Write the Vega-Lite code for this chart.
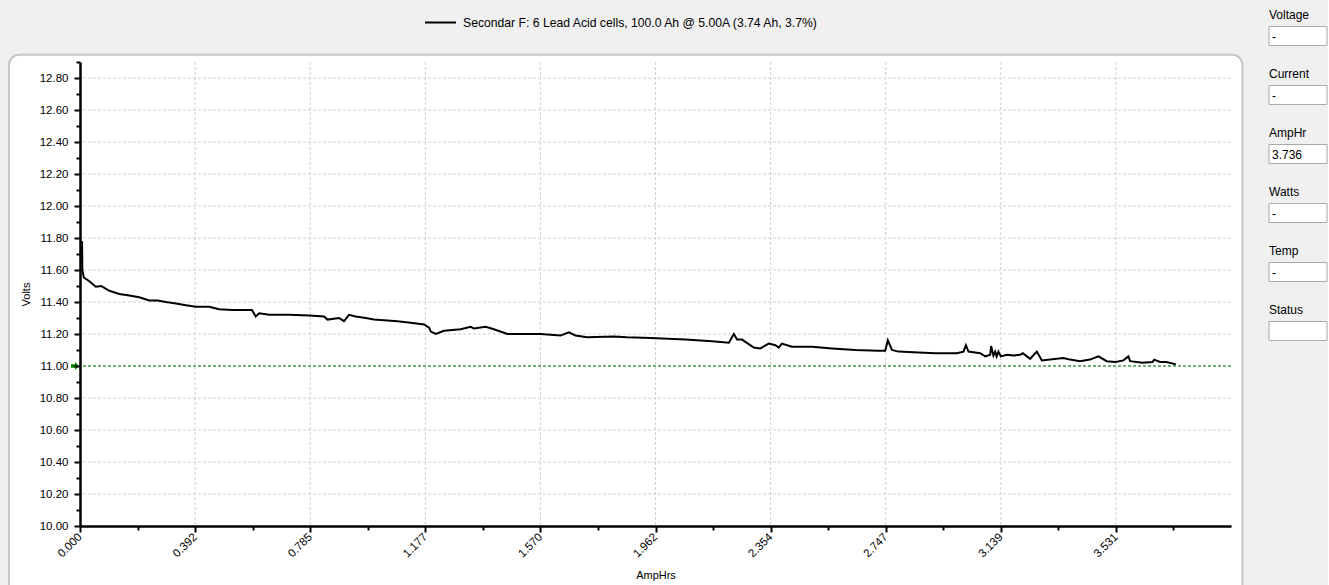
{
  "$schema": "https://vega.github.io/schema/vega-lite/v6.json",
  "background": "#f0f0f0",
  "padding": {"left": 8, "top": 6, "right": 0, "bottom": 0},
  "spacing": 24,
  "config": {
    "font": "Liberation Sans",
    "view": {"stroke": null}
  },
  "hconcat": [
    {
      "width": 1151,
      "height": 464,
      "resolve": {"axis": {"x": "independent", "y": "independent"}},
      "layer": [
        {
          "data": {"values": [{}]},
          "mark": {"type": "rect", "fill": "white", "stroke": "#c6c6c6", "strokeWidth": 2, "cornerRadius": 10},
          "encoding": {
            "x": {"datum": -0.242, "type": "quantitative", "axis": null},
            "x2": {"datum": 3.963},
            "y": {"datum": 12.945, "type": "quantitative", "axis": null},
            "y2": {"datum": 9.55}
          }
        },
        {
          "data": {"values": [
            {"volts": 10.2}, {"volts": 10.4}, {"volts": 10.6}, {"volts": 10.8}, {"volts": 11.0},
            {"volts": 11.2}, {"volts": 11.4}, {"volts": 11.6}, {"volts": 11.8}, {"volts": 12.0},
            {"volts": 12.2}, {"volts": 12.4}, {"volts": 12.6}, {"volts": 12.8}
          ]},
          "mark": {"type": "rule", "color": "#d0d0d0", "strokeDash": [3, 2], "strokeWidth": 1},
          "encoding": {"y": {"field": "volts", "type": "quantitative", "axis": null}}
        },
        {
          "data": {"values": [
            {"amphrs": 0.392385}, {"amphrs": 0.78477}, {"amphrs": 1.177155}, {"amphrs": 1.56954},
            {"amphrs": 1.961925}, {"amphrs": 2.35431}, {"amphrs": 2.746695}, {"amphrs": 3.13908},
            {"amphrs": 3.531465}
          ]},
          "mark": {"type": "rule", "color": "#d0d0d0", "strokeDash": [3, 2], "strokeWidth": 1},
          "encoding": {"x": {"field": "amphrs", "type": "quantitative", "axis": null}}
        },
        {
          "data": {"values": [{}]},
          "mark": {"type": "rule", "color": "#007a00", "strokeDash": [3, 2], "strokeWidth": 1},
          "encoding": {"y": {"datum": 11, "type": "quantitative", "axis": null}}
        },
        {
          "data": {"values": [{}]},
          "mark": {"type": "point", "shape": "M-1,-0.45H0V-1L1,0L0,1V0.45H-1Z", "filled": true, "color": "#008000", "opacity": 1, "size": 64, "xOffset": -5},
          "encoding": {
            "x": {
              "datum": 0, "type": "quantitative",
              "axis": {
                "orient": "bottom", "zindex": 1, "title": null, "labels": false, "domain": false, "grid": false,
                "values": [0.1961925, 0.5885775, 0.9809625, 1.3733475, 1.7657325, 2.1581175, 2.5505025, 2.9428875, 3.3352725, 3.7276575],
                "tickSize": 4, "tickWidth": 2, "tickColor": "black"
              }
            },
            "y": {
              "datum": 11, "type": "quantitative",
              "axis": {
                "orient": "left", "zindex": 1, "title": null, "labels": false, "domain": false, "grid": false,
                "values": [10.1, 10.3, 10.5, 10.7, 10.9, 11.1, 11.3, 11.5, 11.7, 11.9, 12.1, 12.3, 12.5, 12.7, 12.9],
                "tickSize": 4, "tickWidth": 2, "tickColor": "black"
              }
            }
          }
        },
        {
          "data": {"values": [
            {"amphrs": 0.007, "volts": 11.78}, {"amphrs": 0.008, "volts": 11.60}, {"amphrs": 0.013, "volts": 11.553},
            {"amphrs": 0.032, "volts": 11.53}, {"amphrs": 0.054, "volts": 11.496}, {"amphrs": 0.072, "volts": 11.50},
            {"amphrs": 0.100, "volts": 11.47}, {"amphrs": 0.134, "volts": 11.45}, {"amphrs": 0.168, "volts": 11.44},
            {"amphrs": 0.202, "volts": 11.43}, {"amphrs": 0.236, "volts": 11.41}, {"amphrs": 0.265, "volts": 11.41},
            {"amphrs": 0.293, "volts": 11.40}, {"amphrs": 0.327, "volts": 11.39}, {"amphrs": 0.361, "volts": 11.38},
            {"amphrs": 0.395, "volts": 11.37}, {"amphrs": 0.440, "volts": 11.37}, {"amphrs": 0.474, "volts": 11.355},
            {"amphrs": 0.520, "volts": 11.35}, {"amphrs": 0.554, "volts": 11.35}, {"amphrs": 0.586, "volts": 11.35},
            {"amphrs": 0.599, "volts": 11.31}, {"amphrs": 0.611, "volts": 11.33}, {"amphrs": 0.645, "volts": 11.32},
            {"amphrs": 0.713, "volts": 11.32}, {"amphrs": 0.781, "volts": 11.315}, {"amphrs": 0.832, "volts": 11.31},
            {"amphrs": 0.844, "volts": 11.29}, {"amphrs": 0.883, "volts": 11.30}, {"amphrs": 0.900, "volts": 11.28},
            {"amphrs": 0.917, "volts": 11.32}, {"amphrs": 0.940, "volts": 11.31}, {"amphrs": 0.974, "volts": 11.30},
            {"amphrs": 1.002, "volts": 11.29}, {"amphrs": 1.082, "volts": 11.28}, {"amphrs": 1.127, "volts": 11.27},
            {"amphrs": 1.173, "volts": 11.26}, {"amphrs": 1.190, "volts": 11.24}, {"amphrs": 1.196, "volts": 11.215},
            {"amphrs": 1.213, "volts": 11.20}, {"amphrs": 1.241, "volts": 11.22}, {"amphrs": 1.298, "volts": 11.23},
            {"amphrs": 1.332, "volts": 11.245}, {"amphrs": 1.343, "volts": 11.235}, {"amphrs": 1.383, "volts": 11.245},
            {"amphrs": 1.411, "volts": 11.23}, {"amphrs": 1.457, "volts": 11.20}, {"amphrs": 1.502, "volts": 11.20},
            {"amphrs": 1.570, "volts": 11.20}, {"amphrs": 1.638, "volts": 11.19}, {"amphrs": 1.667, "volts": 11.21},
            {"amphrs": 1.689, "volts": 11.19}, {"amphrs": 1.729, "volts": 11.18}, {"amphrs": 1.820, "volts": 11.185},
            {"amphrs": 1.865, "volts": 11.18}, {"amphrs": 1.945, "volts": 11.175}, {"amphrs": 2.064, "volts": 11.165},
            {"amphrs": 2.155, "volts": 11.155}, {"amphrs": 2.212, "volts": 11.145}, {"amphrs": 2.229, "volts": 11.20},
            {"amphrs": 2.240, "volts": 11.165}, {"amphrs": 2.257, "volts": 11.165}, {"amphrs": 2.297, "volts": 11.115},
            {"amphrs": 2.319, "volts": 11.11}, {"amphrs": 2.348, "volts": 11.14}, {"amphrs": 2.371, "volts": 11.13},
            {"amphrs": 2.382, "volts": 11.115}, {"amphrs": 2.393, "volts": 11.14}, {"amphrs": 2.427, "volts": 11.12},
            {"amphrs": 2.496, "volts": 11.12}, {"amphrs": 2.564, "volts": 11.11}, {"amphrs": 2.643, "volts": 11.10},
            {"amphrs": 2.722, "volts": 11.095}, {"amphrs": 2.745, "volts": 11.095}, {"amphrs": 2.754, "volts": 11.16},
            {"amphrs": 2.768, "volts": 11.10}, {"amphrs": 2.790, "volts": 11.09}, {"amphrs": 2.859, "volts": 11.085},
            {"amphrs": 2.916, "volts": 11.08}, {"amphrs": 2.989, "volts": 11.08}, {"amphrs": 3.012, "volts": 11.09},
            {"amphrs": 3.020, "volts": 11.13}, {"amphrs": 3.029, "volts": 11.09}, {"amphrs": 3.069, "volts": 11.08},
            {"amphrs": 3.086, "volts": 11.06}, {"amphrs": 3.103, "volts": 11.07}, {"amphrs": 3.106, "volts": 11.125},
            {"amphrs": 3.114, "volts": 11.065}, {"amphrs": 3.120, "volts": 11.09}, {"amphrs": 3.125, "volts": 11.06},
            {"amphrs": 3.131, "volts": 11.09}, {"amphrs": 3.139, "volts": 11.06}, {"amphrs": 3.160, "volts": 11.07},
            {"amphrs": 3.182, "volts": 11.065}, {"amphrs": 3.205, "volts": 11.07}, {"amphrs": 3.214, "volts": 11.08},
            {"amphrs": 3.228, "volts": 11.06}, {"amphrs": 3.239, "volts": 11.045}, {"amphrs": 3.262, "volts": 11.09},
            {"amphrs": 3.279, "volts": 11.035}, {"amphrs": 3.307, "volts": 11.04}, {"amphrs": 3.352, "volts": 11.05},
            {"amphrs": 3.375, "volts": 11.04}, {"amphrs": 3.409, "volts": 11.03}, {"amphrs": 3.443, "volts": 11.04},
            {"amphrs": 3.472, "volts": 11.06}, {"amphrs": 3.500, "volts": 11.03}, {"amphrs": 3.530, "volts": 11.025},
            {"amphrs": 3.557, "volts": 11.035}, {"amphrs": 3.574, "volts": 11.06}, {"amphrs": 3.580, "volts": 11.03},
            {"amphrs": 3.622, "volts": 11.02}, {"amphrs": 3.656, "volts": 11.025}, {"amphrs": 3.662, "volts": 11.04},
            {"amphrs": 3.682, "volts": 11.025}, {"amphrs": 3.704, "volts": 11.025}, {"amphrs": 3.736, "volts": 11.01}
          ]},
          "mark": {"type": "line", "strokeWidth": 2},
          "encoding": {
            "x": {
              "field": "amphrs", "type": "quantitative",
              "scale": {"domain": [0, 3.92385], "nice": false, "zero": false},
              "axis": {
                "orient": "bottom", "zindex": 1, "grid": false,
                "values": [0, 0.392385, 0.78477, 1.177155, 1.56954, 1.961925, 2.35431, 2.746695, 3.13908, 3.531465],
                "format": ".3f", "labelAngle": -45, "labelAlign": "right", "labelBaseline": "middle",
                "labelOverlap": false, "labelFontSize": 11.5, "labelColor": "black", "labelPadding": 3,
                "tickSize": 6, "tickWidth": 2, "tickColor": "black",
                "domainColor": "black", "domainWidth": 2.5,
                "title": "AmpHrs", "titleFontSize": 11, "titleFontWeight": "normal", "titleColor": "black", "titlePadding": 10
              }
            },
            "y": {
              "field": "volts", "type": "quantitative",
              "scale": {"domain": [10, 12.9], "nice": false, "zero": false},
              "axis": {
                "orient": "left", "zindex": 1, "grid": false,
                "values": [10, 10.2, 10.4, 10.6, 10.8, 11, 11.2, 11.4, 11.6, 11.8, 12, 12.2, 12.4, 12.6, 12.8],
                "format": ".2f", "labelOverlap": false, "labelFontSize": 11.5, "labelColor": "black", "labelPadding": 6,
                "tickSize": 6, "tickWidth": 2, "tickColor": "black",
                "domainColor": "black", "domainWidth": 2.5,
                "title": "Volts", "titleFontSize": 11, "titleFontWeight": "normal", "titleColor": "black", "titlePadding": 8
              }
            },
            "color": {
              "datum": "Secondar F: 6 Lead Acid cells, 100.0 Ah @ 5.00A (3.74 Ah, 3.7%)",
              "scale": {"range": ["#000000"]},
              "legend": {
                "orient": "none", "legendX": 344, "legendY": -56, "title": null,
                "symbolType": "stroke", "symbolStrokeWidth": 2, "symbolSize": 961,
                "labelFontSize": 12.2, "labelColor": "black", "labelOffset": 6, "labelLimit": 600
              }
            }
          }
        }
      ]
    },
    {
      "width": 58,
      "height": 354,
      "data": {"values": [
        {"field": "Voltage", "reading": "-"},
        {"field": "Current", "reading": "-"},
        {"field": "AmpHr", "reading": "3.736"},
        {"field": "Watts", "reading": "-"},
        {"field": "Temp", "reading": "-"},
        {"field": "Status", "reading": ""}
      ]},
      "encoding": {
        "y": {"field": "field", "type": "nominal", "sort": null, "scale": {"paddingInner": 0, "paddingOuter": 0}, "axis": null}
      },
      "layer": [
        {
          "mark": {"type": "bar", "height": 19, "yOffset": -55.5, "fill": "white", "stroke": "#a9a9a9", "strokeWidth": 1},
          "encoding": {
            "x": {"datum": 0, "type": "quantitative", "scale": {"domain": [0, 1], "nice": false}, "axis": null},
            "x2": {"datum": 1}
          }
        },
        {
          "mark": {"type": "text", "align": "left", "baseline": "middle", "dy": -77, "fontSize": 12, "color": "black"},
          "encoding": {
            "x": {"datum": 0, "type": "quantitative"},
            "text": {"field": "field"}
          }
        },
        {
          "mark": {"type": "text", "align": "left", "baseline": "middle", "dx": 3, "dy": -54.5, "fontSize": 12, "color": "black"},
          "encoding": {
            "x": {"datum": 0, "type": "quantitative"},
            "text": {"field": "reading"}
          }
        }
      ]
    }
  ]
}
